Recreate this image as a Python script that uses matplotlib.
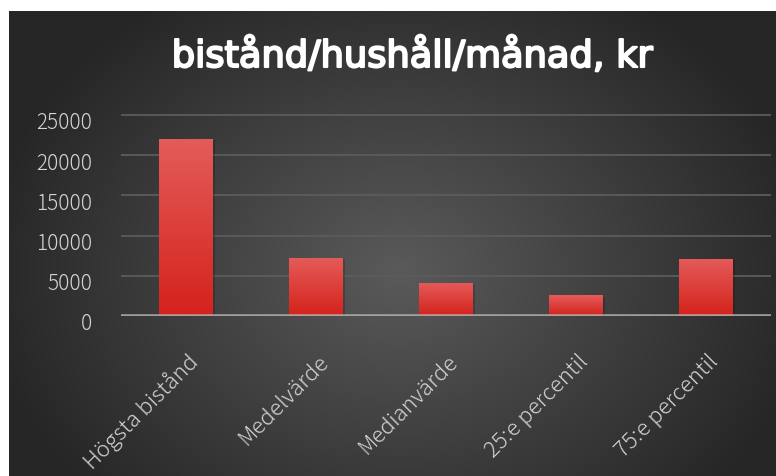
import numpy as np
import matplotlib.pyplot as plt
from matplotlib import patheffects
from matplotlib.transforms import ScaledTranslation

# data
categories = ["Högsta bistånd", "Medelvärde", "Medianvärde", "25:e percentil", "75:e percentil"]
values = [22050, 7250, 4150, 2550, 7150]
y_ticks = [0, 5000, 10000, 15000, 20000, 25000]
title = "bistånd/hushåll/månad, kr"

W, H = 776, 477
plt.rcParams['font.family'] = ['Noto Sans CJK JP', 'DejaVu Sans']

fig = plt.figure(figsize=(W / 100, H / 100), dpi=100)
fig.patch.set_facecolor("white")

# dark radial-gradient panel behind the chart
bg = fig.add_axes([9 / W, 0, (W - 9) / W, (H - 12) / H])
bg.axis("off")
yy, xx = np.mgrid[0:465, 0:767]
r = np.sqrt(((xx - 390) / 420) ** 2 + ((yy - 260) / 330) ** 2)
r = np.clip(r, 0, 1)
inner = np.array([0x5a, 0x5a, 0x5a]) / 255
outer = np.array([0x26, 0x26, 0x26]) / 255
bg.imshow(inner + (outer - inner) * r[..., None], aspect="auto", extent=[0, 1, 0, 1])
bg.set_xlim(0, 1)
bg.set_ylim(0, 1)

# plot area
ymax = 25400
top_px = 317 - 201 * ymax / 25000
ax = fig.add_axes([121 / W, (H - 317) / H, 650 / W, (317 - top_px) / H])
ax.set_facecolor("none")

x = np.arange(len(categories))
bars = ax.bar(x, values, width=0.41, color="#dd3a33", zorder=2)
grad = np.linspace(0, 1, 256)[:, None]
top_c = np.array([0xe4, 0x5c, 0x5a]) / 255
bot_c = np.array([0xd4, 0x22, 0x1b]) / 255
grad_img = bot_c + (top_c - bot_c) * grad[..., None]
for b in bars:
    b.set_path_effects([patheffects.SimplePatchShadow(offset=(2, -1), shadow_rgbFace="black", alpha=0.18),
                        patheffects.Normal()])
    im = ax.imshow(grad_img, origin="lower", aspect="auto", zorder=3,
                   extent=[b.get_x(), b.get_x() + b.get_width(), 0, b.get_height()])
    im.set_clip_path(b)
ax.set_xlim(-0.5, 4.5)
ax.set_ylim(0, ymax)

for v in y_ticks[1:]:
    ax.axhline(v, color="#5c5c5c", lw=1.3, zorder=1)
ax.axhline(0, color="#b0b0b0", lw=2.6, alpha=0.85, zorder=4)

for s in ax.spines.values():
    s.set_visible(False)

ax.set_yticks(y_ticks)
ax.tick_params(axis="y", length=0, pad=21, labelsize=15, labelcolor="#d4d4d4")
for t in ax.get_yticklabels():
    t.set_fontweight("light")
    t.set_transform(t.get_transform() + ScaledTranslation(0, -0.05, fig.dpi_scale_trans))

ax.set_xticks(x)
ax.set_xticklabels(categories, rotation=45, ha="right", va="center", rotation_mode="anchor",
                   fontsize=16, color="#d4d4d4", fontweight="light")
ax.tick_params(axis="x", length=0, pad=30)
for t in ax.get_xticklabels():
    t.set_transform(t.get_transform() + ScaledTranslation(0.09, 0, fig.dpi_scale_trans))

fig.text(412 / W, 1 - 68 / H, title, ha="center", va="baseline", fontsize=26.5,
         color="white", family="DejaVu Sans",
         path_effects=[patheffects.withStroke(linewidth=1.5, foreground="white")])

fig.savefig("out.png", dpi=100)
